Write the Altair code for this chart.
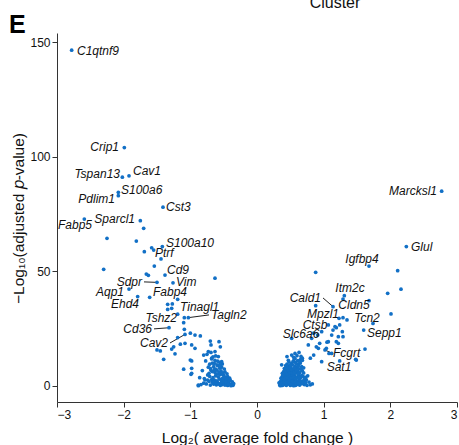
import altair as alt
import pandas as pd

# ---- labelled genes: name, log2FC, -log10 padj ----
genes = ["C1qtnf9", "Crip1", "Tspan13", "Cav1", "S100a6", "Pdlim1", "Cst3", "Fabp5",
         "Sparcl1", "S100a10", "Ptrf", "Cd9", "Sdpr", "Vim", "Aqp1", "Fabp4", "Ehd4",
         "Tinagl1", "Tagln2", "Tshz2", "Cd36", "Cav2",
         "Marcksl1", "Glul", "Igfbp4", "Itm2c", "Cald1", "Cldn5", "Mpzl1", "Tcn2",
         "Sepp1", "Ctsb", "Slc6a6", "Fcgrt", "Sat1"]
gene_fc = [-2.78, -1.99, -2.02, -1.92, -2.08, -2.08, -1.41, -2.59,
           -1.75, -1.42, -1.58, -1.38, -1.50, -1.26, -1.92, -1.61, -1.79,
           -1.27, -1.03, -1.10, -1.32, -1.08,
           2.77, 2.24, 1.68, 1.31, 1.14, 1.68, 1.23, 1.74,
           1.60, 1.07, 0.91, 1.02, 1.24]
gene_p = [146.5, 104.0, 91.1, 91.7, 84.5, 83.0, 78.0, 72.8,
          72.1, 60.8, 60.3, 48.4, 45.2, 45.0, 42.3, 38.7, 39.0,
          35.8, 29.8, 27.6, 25.4, 22.5,
          85.0, 60.8, 52.3, 39.4, 34.6, 37.2, 29.5, 27.3,
          24.4, 26.6, 22.2, 15.7, 10.9]
# label anchor (data units) and alignment
label_fc = [-2.70, -2.07, -2.055, -1.86, -2.04, -2.13, -1.365, -2.475,
            -1.83, -1.365, -1.53, -1.35, -1.725, -1.215, -1.995, -1.56, -1.77,
            -1.155, -0.69, -1.20, -1.575, -1.335,
            2.70, 2.31, 1.575, 1.395, 0.96, 1.455, 0.99, 1.65,
            1.65, 0.87, 0.66, 1.14, 1.23]
label_p = [146.1, 104.2, 92.5, 93.8, 85.5, 81.6, 78.1, 70.2,
           72.8, 62.4, 58.0, 50.6, 45.4, 45.4, 41.0, 41.0, 35.8,
           34.5, 31.0, 29.7, 24.9, 18.75,
           85.0, 60.6, 55.4, 42.7, 38.4, 35.3, 31.4, 29.8,
           23.1, 26.6, 22.7, 14.5, 8.3]
label_align = ["left", "right", "right", "left", "left", "right", "left", "right",
               "right", "left", "left", "left", "right", "left", "right", "left", "right",
               "left", "left", "right", "right", "right",
               "right", "left", "center", "center", "right", "center", "center", "center",
               "left", "center", "center", "left", "center"]
leader_genes = ["Sdpr", "Tagln2", "Cd36", "Cav2", "Cald1", "Fcgrt"]

# ---- other (unlabelled) genes ----
other_fc = [
    -1.70, -2.25, -1.81, -1.69, -1.55, -1.44, -1.54, -2.30, -1.66, -1.63, -0.63,
    -1.19, -1.34, -1.34, -1.28, -1.19, -1.09, -1.09, -1.00, -0.93, -0.85, -0.98,
    -0.93, -0.57, -0.70, -1.50, -1.45, -1.28, -1.23, -1.40, -1.00, -1.10, -0.98,
    -0.86, -0.74, -1.25, -1.15, -1.08, -1.19, -0.99, -0.88, -0.98, -0.55, -0.80,
    -0.73, -0.68, -0.58, -0.53, -0.98, -0.78, -0.88, -0.69, -0.63,
    # dense left
    -0.36, -0.38, -0.40, -0.42, -0.44, -0.46, -0.48, -0.50, -0.52, -0.55, -0.58, -0.61, -0.65, -0.70, -0.76,
    -0.37, -0.40, -0.43, -0.45, -0.47, -0.50, -0.53, -0.56, -0.60, -0.64, -0.68,
    -0.41, -0.44, -0.47, -0.50, -0.52, -0.55, -0.58, -0.62, -0.66, -0.71,
    -0.45, -0.48, -0.51, -0.54, -0.57, -0.60, -0.63, -0.67, -0.72,
    -0.49, -0.53, -0.56, -0.59, -0.62, -0.65, -0.70,
    -0.52, -0.56, -0.60, -0.63, -0.67, -0.71,
    -0.62, -0.66, -0.75, -0.69,
    -0.35, -0.39, -0.43, -0.47, -0.51, -0.54, -0.57, -0.60, -0.63, -0.67, -0.72, -0.80, -0.84,
    -0.42, -0.46, -0.49, -0.53, -0.57, -0.61, -0.64, -0.69, -0.74, -0.79,
    -0.55, -0.59, -0.64, -0.68, -0.73, -0.77, -0.82,
    # right scattered
    2.11, 0.88, 2.16, 1.96, 1.29, 0.88, 2.01, 1.62, 1.48, 1.29, 1.35, 1.24,
    1.19, 1.14, 1.28, 1.12, 1.29, 1.22, 1.05, 1.08, 0.92, 0.52, 1.17, 0.97,
    1.07, 1.19, 1.22, 0.94, 0.89, 1.04, 1.12, 1.49, 0.97, 0.85, 0.52, 0.57,
    0.45, 0.68, 0.80, 0.77, 0.82, 0.85, 0.37, 0.69,
    # dense right
    0.34, 0.36, 0.38, 0.40, 0.42, 0.44, 0.46, 0.48, 0.50, 0.52, 0.54, 0.56, 0.58, 0.61, 0.64, 0.67, 0.71, 0.75, 0.80,
    0.35, 0.37, 0.39, 0.41, 0.43, 0.45, 0.47, 0.49, 0.51, 0.53, 0.55, 0.57, 0.60, 0.63, 0.66, 0.70, 0.74,
    0.36, 0.38, 0.40, 0.42, 0.44, 0.46, 0.48, 0.50, 0.52, 0.54, 0.56, 0.59, 0.62, 0.65, 0.69, 0.73,
    0.38, 0.40, 0.42, 0.44, 0.46, 0.48, 0.50, 0.52, 0.55, 0.58, 0.61, 0.64, 0.68,
    0.41, 0.44, 0.46, 0.49, 0.51, 0.54, 0.57, 0.60, 0.63, 0.67,
    0.45, 0.48, 0.52, 0.55, 0.58, 0.62, 0.65,
    0.55, 0.60, 0.63, 0.66,
    0.33, 0.35, 0.37, 0.39, 0.41, 0.43, 0.45, 0.47, 0.49, 0.51, 0.53, 0.55, 0.57, 0.59, 0.62, 0.65, 0.69, 0.73, 0.78, 0.83,
    0.37, 0.39, 0.41, 0.43, 0.45, 0.47, 0.49, 0.51, 0.53, 0.55, 0.58, 0.61, 0.64, 0.67, 0.71, 0.76,
    0.39, 0.41, 0.43, 0.45, 0.47, 0.49, 0.51, 0.53, 0.56, 0.59, 0.62, 0.66, 0.70,
    0.43, 0.47, 0.50, 0.53, 0.56, 0.59, 0.62, 0.65, 0.70,
    0.47, 0.50, 0.54, 0.57, 0.61, 0.64, 0.68,
]
other_p = [
    68.8, 64.4, 63.2, 58.6, 59.3, 55.4, 52.3, 50.9, 48.8, 48.3, 47.0,
    37.8, 35.6, 33.4, 33.9, 31.3, 29.8, 24.7, 23.0, 22.2, 21.8, 17.9,
    16.4, 19.3, 19.6, 15.7, 15.3, 16.1, 14.0, 11.6, 11.3, 7.3, 7.7,
    3.6, 2.6, 17.1, 18.2, 18.6, 21.1, 5.1, 0.1, 10.9, 17.1, 13.5,
    15.0, 12.1, 12.8, 10.6, 5.5, 2.6, 0.4, 17.9, 15.0,
    # dense left
    0.3, 0.8, 0.5, 1.2, 0.2, 0.9, 0.4, 1.5, 0.6, 0.3, 1.1, 0.5, 0.8, 0.4, 0.9,
    1.8, 2.4, 2.0, 2.9, 1.6, 2.6, 2.2, 3.0, 1.9, 2.5, 2.8,
    3.4, 4.1, 3.7, 4.6, 3.2, 4.9, 3.9, 4.4, 3.6, 4.2,
    5.3, 6.1, 5.7, 6.6, 5.2, 6.9, 5.9, 6.3, 5.5,
    7.4, 8.2, 7.8, 8.9, 7.3, 8.4, 7.7,
    9.6, 10.3, 9.2, 11.2, 10.0, 9.5,
    13.1, 12.7, 13.8, 14.6,
    1.0, 0.1, 0.7, 1.9, 2.0, 1.4, 0.8, 2.2, 1.3, 1.6, 2.0, 1.2, 0.6,
    2.8, 3.3, 3.9, 5.6, 6.0, 5.1, 7.1, 6.8, 4.8, 3.2,
    9.0, 10.8, 9.9, 11.8, 8.2, 10.9, 6.7,
    # right scattered
    50.3, 49.6, 42.2, 40.4, 37.9, 35.0, 31.4, 16.1, 11.6, 29.8, 28.8, 26.6,
    25.4, 24.4, 23.7, 22.2, 21.5, 18.6, 19.1, 14.2, 16.4, 20.8, 25.9, 23.7,
    19.3, 19.3, 21.5, 18.6, 17.1, 16.4, 14.2, 11.3, 10.6, 13.5, 13.5, 14.2,
    12.8, 12.1, 12.1, 17.9, 20.8, 23.0, 9.2, 1.2,
    # dense right
    0.4, 0.9, 0.2, 1.1, 0.6, 0.3, 1.3, 0.8, 0.2, 1.0, 0.5, 1.2, 0.3, 0.7, 0.4, 1.0, 0.6, 0.3, 0.5,
    1.9, 2.6, 1.6, 2.2, 2.9, 1.8, 2.5, 2.1, 2.8, 1.7, 2.4, 3.0, 2.0, 2.6, 1.8, 2.3, 2.7,
    3.4, 4.2, 3.8, 4.7, 3.2, 4.4, 3.6, 4.9, 4.0, 3.3, 4.5, 3.9, 4.8, 3.5, 4.2, 3.7,
    5.5, 6.3, 5.2, 6.8, 5.8, 6.5, 5.3, 6.1, 6.9, 5.6, 6.4, 5.9, 6.6,
    7.6, 8.3, 7.2, 8.8, 7.9, 7.4, 8.6, 8.0, 7.5, 8.4,
    9.5, 10.4, 9.8, 11.1, 10.2, 9.3, 11.5,
    12.5, 13.2, 14.6, 12.9,
    1.4, 0.1, 1.2, 0.6, 1.8, 1.5, 0.7, 1.9, 1.5, 0.9, 2.0, 0.1, 1.7, 0.9, 1.4, 2.2, 1.3, 1.5, 1.7, 0.9,
    3.0, 3.1, 2.9, 3.9, 3.5, 4.6, 3.0, 3.6, 4.7, 3.8, 3.2, 3.5, 3.9, 4.6, 3.1, 4.4,
    4.8, 5.6, 6.2, 5.1, 6.9, 5.8, 7.0, 5.6, 5.9, 6.9, 5.3, 7.3, 5.7,
    8.9, 8.1, 8.4, 9.2, 7.8, 9.6, 8.7, 10.0, 7.9,
    11.2, 9.1, 10.6, 12.0, 11.0, 10.6, 11.2,
]

x_ticks = [-3, -2, -1, 0, 1, 2, 3]
y_ticks = [0, 50, 100, 150]

POINT = "#1270c6"
FONT = "Liberation Sans"

pts = pd.DataFrame({"fc": list(other_fc) + list(gene_fc),
                    "p": list(other_p) + list(gene_p)})
lab = pd.DataFrame({"gene": genes, "fc": gene_fc, "p": gene_p,
                    "lx": label_fc, "ly": label_p, "align": label_align})
lead = lab[lab["gene"].isin(leader_genes)].copy()
lead["ex"] = [lx + (0.03 if a == "right" else -0.03) for lx, a in zip(lead["lx"], lead["align"])]

xs = alt.Scale(domain=[-3, 3], nice=False, zero=False)
ys = alt.Scale(domain=[-7, 154], nice=False, zero=False)

xaxis = alt.Axis(values=x_ticks, format="d", grid=False, title="Log₂( average fold change )",
                 titleY=35, titleAlign="center", titleBaseline="middle", titleFontSize=15.5,
                 titleFontWeight="normal", titleFont=FONT, titleColor="#111",
                 labelFont=FONT, labelFontSize=12, labelColor="#111", labelPadding=2,
                 tickSize=5, tickColor="#333", domainColor="#333")
yaxis = alt.Axis(values=y_ticks, format="d", grid=False, title="−Log₁₀(adjusted 𝑝-value)",
                 titleX=-39, titleY=185, titleAngle=270, titleAlign="center",
                 titleBaseline="middle", titleFontSize=15.5, titleFontWeight="normal",
                 titleFont=FONT, titleColor="#111",
                 labelFont=FONT, labelFontSize=12, labelColor="#111", labelPadding=2,
                 tickSize=5, tickColor="#333", domainColor="#333")

points = alt.Chart(pts).mark_circle(size=14, opacity=1, color=POINT).encode(
    x=alt.X("fc:Q", scale=xs, axis=xaxis),
    y=alt.Y("p:Q", scale=ys, axis=yaxis),
)

leaders = alt.Chart(lead).mark_rule(color="#222", strokeWidth=1).encode(
    x=alt.X("fc:Q", scale=xs), y=alt.Y("p:Q", scale=ys),
    x2="ex:Q", y2="ly:Q",
)

layers = [leaders, points]
for a in ["left", "right", "center"]:
    sub = lab[lab["align"] == a]
    layers.append(
        alt.Chart(sub).mark_text(align=a, baseline="middle", font=FONT, fontSize=12,
                                 fontStyle="italic", color="#111").encode(
            x=alt.X("lx:Q", scale=xs), y=alt.Y("ly:Q", scale=ys), text="gene:N")
    )

title_txt = alt.Chart(pd.DataFrame({"t": ["Cluster"]})).mark_text(
    align="center", baseline="alphabetic", font=FONT, fontSize=16, color="#111"
).encode(x=alt.value(278), y=alt.value(-25), text="t:N")

panel_txt = alt.Chart(pd.DataFrame({"t": ["E"]})).mark_text(
    align="left", baseline="alphabetic", font=FONT, fontSize=25, fontWeight="bold", color="#000"
).encode(x=alt.value(-48), y=alt.value(0), text="t:N")

chart = alt.layer(*layers, title_txt, panel_txt).properties(
    width=400, height=369,
    autosize=alt.AutoSizeParams(type="none"),
    padding={"left": 57, "top": 33, "right": 2, "bottom": 43},
).configure_view(stroke=None).configure_axis(domainWidth=1, tickWidth=1)

chart.save("out.html", embed_options={"renderer": "svg", "actions": False})
